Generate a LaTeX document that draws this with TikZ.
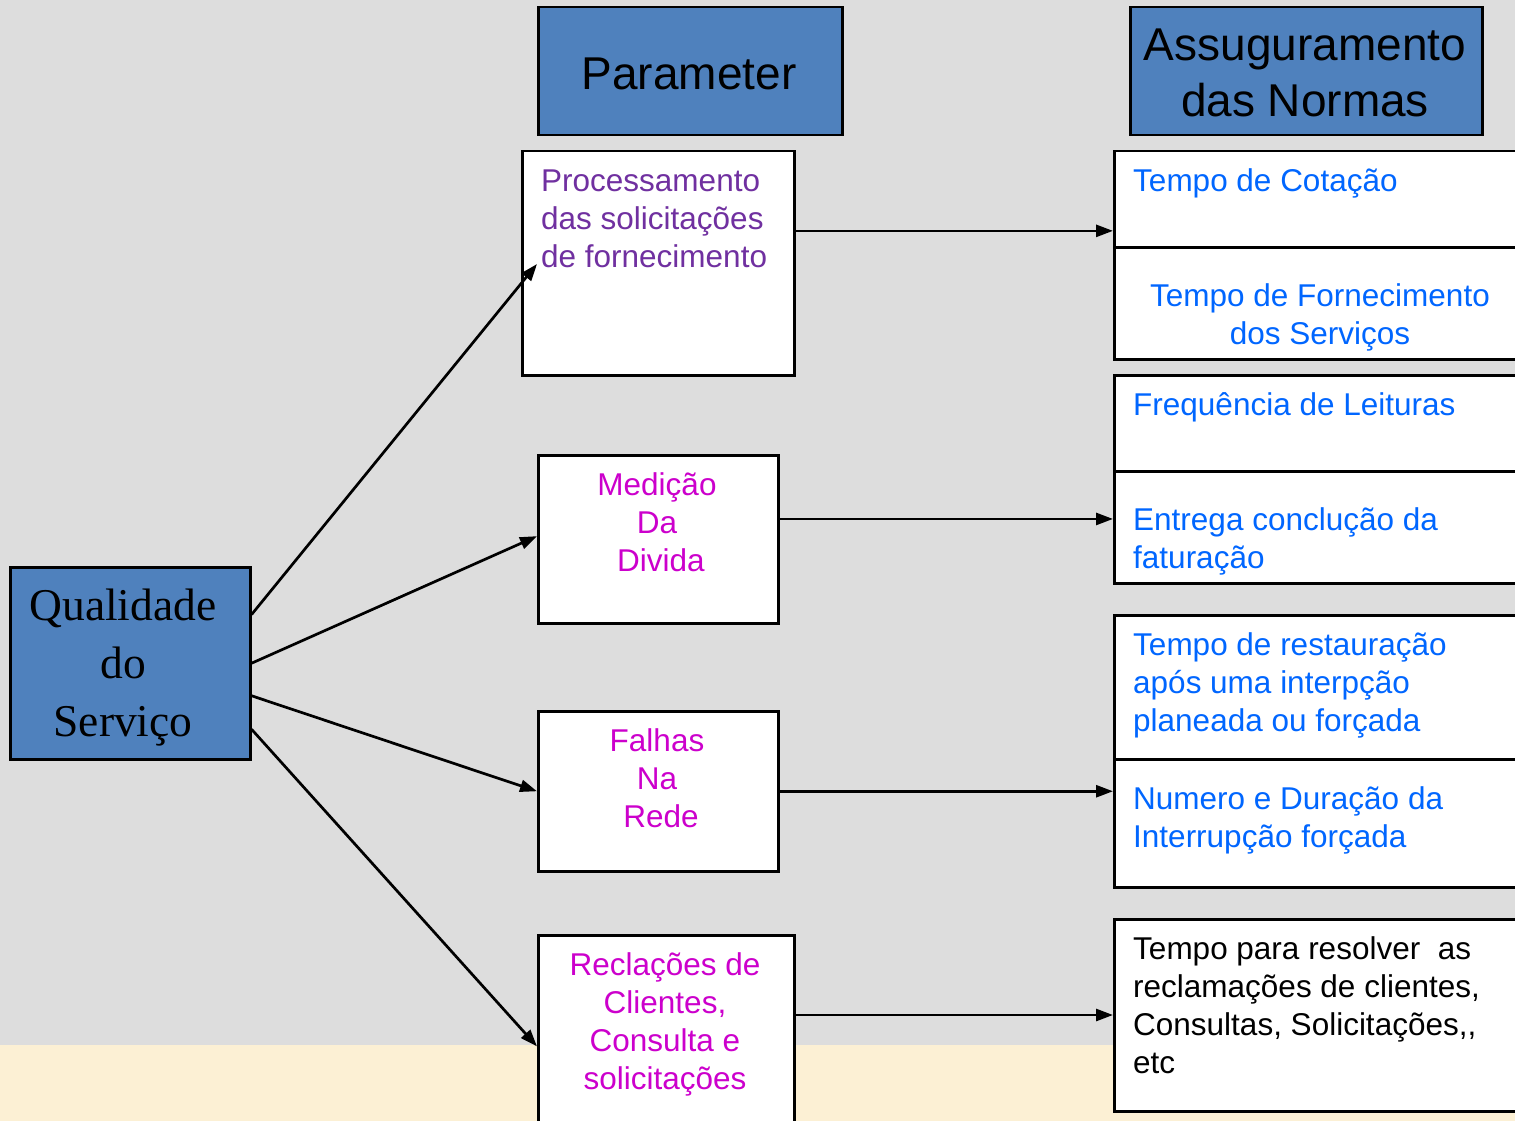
\documentclass[tikz,border=0pt]{standalone}
\usepackage{fontspec}
\setmainfont{Liberation Serif}
\newfontfamily\arialf{Liberation Sans}
\usetikzlibrary{arrows.meta,calc}
\definecolor{bgg}{RGB}{221,221,221}
\definecolor{beige}{RGB}{252,240,212}
\definecolor{hdrblue}{RGB}{79,129,189}
\definecolor{purp}{RGB}{112,48,160}
\definecolor{mag}{RGB}{204,0,204}
\definecolor{txtblue}{RGB}{0,102,255}
\begin{document}
\begin{tikzpicture}[x=1pt,y=-1pt,
  box/.style={draw=black, line width=2.5pt, fill=white, anchor=north west, inner sep=0pt},
  hdr/.style={box, fill=hdrblue},
  txt/.style={inner sep=0pt, font=\arialf\fontsize{31.5}{38}\selectfont},
  bigtxt/.style={inner sep=0pt, font=\arialf\fontsize{46}{56}\selectfont, align=center, anchor=base},
  arr/.style={line width=2.7pt, -{Triangle[length=17pt,width=12pt]}}]
\useasboundingbox (0,0) rectangle (1515,1121);
\clip (0,0) rectangle (1515,1121);
\fill[bgg] (0,0) rectangle (1515,1121);
\fill[beige] (0,1045) rectangle (1515,1121);

% header boxes
\node[hdr, minimum width=304pt, minimum height=128pt] (par) at (537,6) {};
\node[hdr, minimum width=352pt, minimum height=128pt] (ass) at (1129,6) {};
\node[bigtxt] (tpar) at (689,90) {Parameter};
\node[bigtxt] (tass) at (1305,117) {Assuguramento\\das Normas};

% source box
\node[hdr, minimum width=240pt, minimum height=192pt] (q) at (9,566) {};
\node[inner sep=0pt, font=\fontsize{45.5}{58}\selectfont, align=center, anchor=base] (tq) at (123,736) {Qualidade\\do\\Serviço};

% middle boxes
\node[box, minimum width=272pt, minimum height=224pt] (proc) at (521,150) {};
\node[box, minimum width=240pt, minimum height=168pt] (med) at (537,454) {};
\node[box, minimum width=240pt, minimum height=160pt] (fal) at (537,710) {};
\node[box, minimum width=256pt, minimum height=200pt] (rec) at (537,934) {};

\node[txt, text=purp, align=left, anchor=base west] (tproc) at (541,267) {Processamento\\das solicitações\\de fornecimento};
\node[txt, text=mag, align=center, anchor=base] (tmed) at (657,571) {Medição\\Da\\\hspace*{8pt}Divida};
\node[txt, text=mag, align=center, anchor=base] (tfal) at (657,827) {Falhas\\Na\\\hspace*{8pt}Rede};
\node[txt, text=mag, align=center, anchor=base] (trec) at (665,1089) {Reclações de\\Clientes,\\Consulta e\\solicitações};

% right boxes
\node[box, minimum width=412pt, minimum height=96pt] (r1a) at (1113,150) {};
\node[box, minimum width=412pt, minimum height=112pt] (r1b) at (1113,246) {};
\node[box, minimum width=412pt, minimum height=96pt] (r2a) at (1113,374) {};
\node[box, minimum width=412pt, minimum height=112pt] (r2b) at (1113,470) {};
\node[box, minimum width=412pt, minimum height=144pt] (r3a) at (1113,614) {};
\node[box, minimum width=412pt, minimum height=128pt] (r3b) at (1113,758) {};
\node[box, minimum width=412pt, minimum height=192pt] (r4) at (1113,918) {};

\node[txt, text=txtblue, anchor=base west] (t1a) at (1133,191) {Tempo de Cotação};
\node[txt, text=txtblue, align=center, anchor=base] (t1b) at (1320,344) {Tempo de Fornecimento\\dos Serviços};
\node[txt, text=txtblue, anchor=base west] (t2a) at (1133,415) {Frequência de Leituras};
\node[txt, text=txtblue, align=left, anchor=base west] (t2b) at (1133,568) {Entrega conclução da\\faturação};
\node[txt, text=txtblue, align=left, anchor=base west] (t3a) at (1133,731) {Tempo de restauração\\após uma interpção\\planeada ou forçada};
\node[txt, text=txtblue, align=left, anchor=base west] (t3b) at (1133,847) {Numero e Duração da\\Interrupção forçada};
\node[txt, text=black, align=left, anchor=base west] (t4) at (1133,1073) {Tempo para resolver\ \ as\\reclamações de clientes,\\Consultas, Solicitações,,\\etc};

% connectors
\coordinate (ptip) at (537,264);
\draw[arr] ($(q.north east)!0.25!(q.south east)$) -- (ptip);
\draw[arr] ($(q.north east)!0.5!(q.south east)$) -- ($(med.north west)!0.482!(med.south west)$);
\draw[arr] ($(q.north east)!0.667!(q.south east)$) -- (fal.west);
\draw[arr] ($(q.north east)!0.839!(q.south east)$) -- ($(rec.north west)!0.555!(rec.south west)$);

\draw[arr] ($(proc.north east)!0.357!(proc.south east)$) coordinate (s1) -- (s1 -| r1a.west);
\draw[arr] ($(med.north east)!0.381!(med.south east)$) coordinate (s2) -- (s2 -| r2b.west);
\draw[arr] (fal.east) -- (fal.east -| r3b.west);
\draw[arr] ($(rec.north east)!0.4!(rec.south east)$) coordinate (s4) -- (s4 -| r4.west);
\end{tikzpicture}
\end{document}
